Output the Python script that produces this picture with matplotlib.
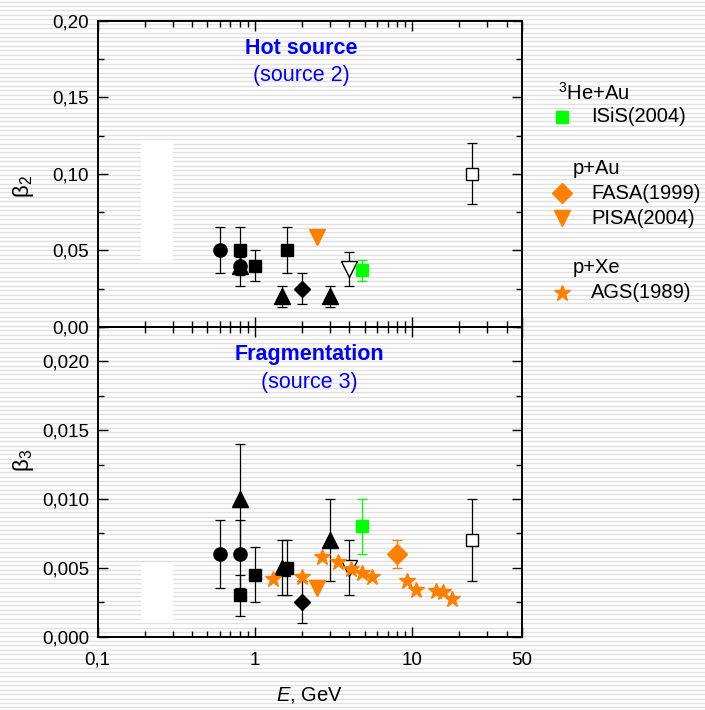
import numpy as np
import matplotlib
matplotlib.use('Agg')
import matplotlib.pyplot as plt
from matplotlib.lines import Line2D
from matplotlib.patches import Rectangle
from matplotlib.ticker import FixedLocator, FuncFormatter, NullFormatter

plt.rcParams['font.family'] = ['Liberation Sans', 'DejaVu Sans']
plt.rcParams['mathtext.fontset'] = 'custom'
plt.rcParams['mathtext.rm'] = 'Liberation Sans'
plt.rcParams['mathtext.it'] = 'Liberation Sans:italic'
plt.rcParams['mathtext.bf'] = 'Liberation Sans:bold'

ORANGE = '#ff8000'
GREEN = '#00ff00'

# ---- hot source (beta2) ----
b2_circ_E = [0.6, 0.8]
b2_circ = [0.05, 0.04]
b2_circ_err = [0.015, 0.006]
b2_sq_E = [0.8, 1.0, 1.6]
b2_sq = [0.05, 0.04, 0.05]
b2_sq_err = [0.015, 0.01, 0.015]
b2_tri_E = [0.8, 1.5, 3.0]
b2_tri = [0.04, 0.02, 0.02]
b2_tri_err = [0.013, 0.007, 0.007]
b2_dia_E = [2.0]
b2_dia = [0.025]
b2_dia_err = [0.01]
b2_otri_E = [4.0]
b2_otri = [0.038]
b2_otri_err = [0.011]
b2_osq_E = [24]
b2_osq = [0.10]
b2_osq_err = [0.02]
b2_isis_E = [4.8]
b2_isis = [0.037]
b2_isis_err = [0.007]
b2_pisa_E = [2.5]
b2_pisa = [0.059]

# ---- fragmentation (beta3) ----
b3_circ_E = [0.6, 0.8]
b3_circ = [0.006, 0.006]
b3_circ_err = [0.0025, 0.0025]
b3_sq_E = [0.8, 1.0, 1.6]
b3_sq = [0.003, 0.0045, 0.005]
b3_sq_err = [0.0015, 0.002, 0.002]
b3_tri_E = [0.8, 1.5, 3.0]
b3_tri = [0.010, 0.005, 0.007]
b3_tri_err = [0.004, 0.002, 0.003]
b3_dia_E = [2.0]
b3_dia = [0.0025]
b3_dia_err = [0.0015]
b3_otri_E = [4.0]
b3_otri = [0.005]
b3_otri_err = [0.002]
b3_osq_E = [24]
b3_osq = [0.007]
b3_osq_err = [0.003]
b3_isis_E = [4.8]
b3_isis = [0.008]
b3_isis_err = [0.002]
b3_pisa_E = [2.5]
b3_pisa = [0.0035]
b3_fasa_E = [8.0]
b3_fasa = [0.006]
b3_fasa_err = [0.001]
b3_ags_E = [1.3, 2.0, 2.67, 3.36, 4.08, 4.84, 5.6, 9.33, 10.65, 14.3, 15.7, 18.0]
b3_ags = [0.0042, 0.0043, 0.0058, 0.0054, 0.0049, 0.0046, 0.0043, 0.0040,
          0.0034, 0.0033, 0.0032, 0.0027]

x_ticks = [0.1, 1, 10, 50]
x_ticklabels = ['0,1', '1', '10', '50']

fig = plt.figure(figsize=(7.05, 7.10), dpi=100)

# striped slide background
bg = fig.add_axes([0, 0, 1, 1], zorder=-10)
bg.set_xlim(0, 1)
bg.set_ylim(710, 0)
for yy in np.arange(1.5, 710, 4.44):
    bg.axhline(yy, color='#e0e0e0', lw=1.0)
bg.axis('off')

left, width = 97.5 / 705, 424.5 / 705
ax1 = fig.add_axes([left, 1 - 327 / 710, width, 306.3 / 710])
ax2 = fig.add_axes([left, 1 - 636.5 / 710, width, 309.5 / 710])


def draw(ax, x, y, err, marker, ms, face, edge, ecol='k', z=3):
    if err is None:
        ax.plot(x, y, ls='none', marker=marker, ms=ms, mfc=face, mec=edge,
                mew=1.0, zorder=z)
    else:
        ax.errorbar(x, y, yerr=err, fmt='none', ecolor=ecol, elinewidth=0.9,
                    capsize=3.6, capthick=0.9, zorder=z - 0.5)
        ax.plot(x, y, ls='none', marker=marker, ms=ms, mfc=face, mec=edge,
                mew=1.0, zorder=z)


for ax in (ax1, ax2):
    ax.set_facecolor('none')
    ax.set_xscale('log')
    ax.set_xlim(0.1, 50)
    ax.xaxis.set_major_locator(FixedLocator(x_ticks))
    ax.xaxis.set_minor_locator(FixedLocator(
        [m * d for d in (0.1, 1, 10) for m in range(2, 10) if m * d < 50]))
    ax.xaxis.set_minor_formatter(NullFormatter())
    ax.tick_params(which='both', direction='in', top=True, right=True,
                   labelsize=13.5, width=1.0, pad=6)
    ax.tick_params(which='major', length=7)
    ax.tick_params(which='minor', length=4)
    for s in ax.spines.values():
        s.set_linewidth(1.4)

# top panel
ax1.set_ylim(0, 0.2)
ax1.yaxis.set_major_locator(FixedLocator([0, 0.05, 0.10, 0.15, 0.20]))
ax1.yaxis.set_minor_locator(FixedLocator([0.025, 0.075, 0.125, 0.175]))
ax1.yaxis.set_major_formatter(FuncFormatter(lambda v, p: f'{v:.2f}'.replace('.', ',')))
ax1.set_xticklabels([])
ax1.add_patch(Rectangle((0.19, 0.042), 0.11, 0.08, color='white', lw=0, zorder=0.5))

draw(ax1, b2_circ_E, b2_circ, b2_circ_err, 'o', 9.5, 'k', 'k')
draw(ax1, b2_sq_E, b2_sq, b2_sq_err, 's', 9, 'k', 'k')
draw(ax1, b2_tri_E, b2_tri, b2_tri_err, '^', 11, 'k', 'k')
draw(ax1, b2_dia_E, b2_dia, b2_dia_err, 'D', 8.5, 'k', 'k')
draw(ax1, b2_otri_E, b2_otri, b2_otri_err, 'v', 11, 'white', 'k')
draw(ax1, b2_osq_E, b2_osq, b2_osq_err, 's', 9, 'white', 'k')
draw(ax1, b2_isis_E, b2_isis, b2_isis_err, 's', 9, GREEN, GREEN, ecol=GREEN)
draw(ax1, b2_pisa_E, b2_pisa, None, 'v', 11, ORANGE, ORANGE)

ax1.text(0.48, 0.91, 'Hot source', transform=ax1.transAxes, ha='center', va='center',
         color='#0000ff', fontsize=15.5, fontweight='bold')
ax1.text(0.48, 0.82, '(source 2)', transform=ax1.transAxes, ha='center', va='center',
         color='#0000ff', fontsize=15.5)
ax1.text(-0.175, 0.46, 'β$_2$', transform=ax1.transAxes, rotation=90,
         ha='center', va='center', fontsize=16)

# bottom panel
ax2.set_ylim(0, 0.0225)
ax2.yaxis.set_major_locator(FixedLocator([0, 0.005, 0.010, 0.015, 0.020]))
ax2.yaxis.set_minor_locator(FixedLocator([0.0025, 0.0075, 0.0125, 0.0175, 0.0225]))
ax2.yaxis.set_major_formatter(FuncFormatter(lambda v, p: f'{v:.3f}'.replace('.', ',')))
ax2.set_xticklabels(x_ticklabels)
ax2.tick_params(axis='x', which='major', pad=11)
ax2.add_patch(Rectangle((0.19, 0.001), 0.11, 0.0044, color='white', lw=0, zorder=0.5))

draw(ax2, b3_circ_E, b3_circ, b3_circ_err, 'o', 9.5, 'k', 'k')
draw(ax2, b3_sq_E, b3_sq, b3_sq_err, 's', 9, 'k', 'k')
draw(ax2, b3_tri_E, b3_tri, b3_tri_err, '^', 11, 'k', 'k')
draw(ax2, b3_dia_E, b3_dia, b3_dia_err, 'D', 8.5, 'k', 'k')
draw(ax2, b3_otri_E, b3_otri, b3_otri_err, 'v', 11, 'white', 'k')
draw(ax2, b3_osq_E, b3_osq, b3_osq_err, 's', 9, 'white', 'k')
draw(ax2, b3_isis_E, b3_isis, b3_isis_err, 's', 9, GREEN, GREEN, ecol=GREEN)
draw(ax2, b3_pisa_E, b3_pisa, None, 'v', 11, ORANGE, ORANGE)
draw(ax2, b3_fasa_E, b3_fasa, b3_fasa_err, 'D', 10, ORANGE, ORANGE, ecol=ORANGE)
draw(ax2, b3_ags_E, b3_ags, None, '*', 12, ORANGE, ORANGE, z=5)

ax2.text(0.5, 0.91, 'Fragmentation', transform=ax2.transAxes, ha='center', va='center',
         color='#0000ff', fontsize=15.5, fontweight='bold')
ax2.text(0.5, 0.82, '(source 3)', transform=ax2.transAxes, ha='center', va='center',
         color='#0000ff', fontsize=15.5)
ax2.text(-0.175, 0.57, 'β$_3$', transform=ax2.transAxes, rotation=90,
         ha='center', va='center', fontsize=16)
ax2.set_xlabel('$\\mathit{E}$, GeV', fontsize=14.5, labelpad=12)

# grouped legend on the right
legend_rows = [
    ('header', '$^{3}$He+Au', None, None, 558),
    ('item', 'ISiS(2004)', 's', GREEN, 591),
    ('header', 'p+Au', None, None, 573),
    ('item', 'FASA(1999)', 'D', ORANGE, 591),
    ('item', 'PISA(2004)', 'v', ORANGE, 591),
    ('header', 'p+Xe', None, None, 573),
    ('item', 'AGS(1989)', '*', ORANGE, 591),
]
row_y = [93, 117, 168, 193, 218, 268, 293]
for (kind, label, mk, col, xt), yy in zip(legend_rows, row_y):
    yf = 1 - yy / 710
    if kind == 'item':
        ms = {'s': 8.5, 'D': 10, 'v': 11, '*': 12}[mk]
        fig.add_artist(Line2D([562 / 705], [yf], marker=mk, ms=ms, color=col,
                              ls='none', transform=fig.transFigure))
    fig.text(xt / 705, yf, label, fontsize=14.5, ha='left', va='center')

fig.savefig('out.png', dpi=100)
